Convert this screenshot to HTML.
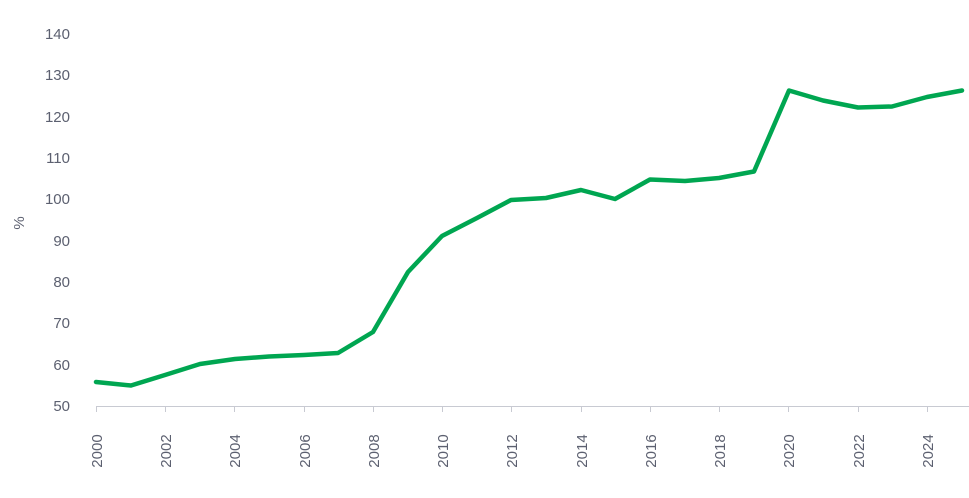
<!DOCTYPE html>
<html><head><meta charset="utf-8"><style>
html,body{margin:0;padding:0;background:#fff;width:969px;height:498px;overflow:hidden}
svg text{font-family:"Liberation Sans",sans-serif;font-size:15px;fill:#5c6070}
</style></head><body>
<svg width="969" height="498" xmlns="http://www.w3.org/2000/svg">
<g text-anchor="end">
<text x="70" y="39">140</text><text x="70" y="80">130</text><text x="70" y="122">120</text>
<text x="70" y="163">110</text><text x="70" y="204">100</text><text x="70" y="246">90</text>
<text x="70" y="287">80</text><text x="70" y="328">70</text><text x="70" y="370">60</text>
<text x="70" y="411">50</text>
</g>
<text transform="translate(24,223) rotate(-90)" text-anchor="middle">%</text>
<line x1="96" y1="406.5" x2="969" y2="406.5" stroke="#c8cad2" stroke-width="1"/>
<g stroke="#c8cad2" stroke-width="1">
<line x1="96.5" y1="406" x2="96.5" y2="412"/><line x1="165.5" y1="406" x2="165.5" y2="412"/>
<line x1="234.5" y1="406" x2="234.5" y2="412"/><line x1="304.5" y1="406" x2="304.5" y2="412"/>
<line x1="373.5" y1="406" x2="373.5" y2="412"/><line x1="442.5" y1="406" x2="442.5" y2="412"/>
<line x1="511.5" y1="406" x2="511.5" y2="412"/><line x1="581.5" y1="406" x2="581.5" y2="412"/>
<line x1="650.5" y1="406" x2="650.5" y2="412"/><line x1="719.5" y1="406" x2="719.5" y2="412"/>
<line x1="788.5" y1="406" x2="788.5" y2="412"/><line x1="858.5" y1="406" x2="858.5" y2="412"/>
<line x1="927.5" y1="406" x2="927.5" y2="412"/>
</g>
<g text-anchor="middle">
<text transform="translate(102,451) rotate(-90)">2000</text>
<text transform="translate(171,451) rotate(-90)">2002</text>
<text transform="translate(240,451) rotate(-90)">2004</text>
<text transform="translate(310,451) rotate(-90)">2006</text>
<text transform="translate(379,451) rotate(-90)">2008</text>
<text transform="translate(448,451) rotate(-90)">2010</text>
<text transform="translate(517,451) rotate(-90)">2012</text>
<text transform="translate(587,451) rotate(-90)">2014</text>
<text transform="translate(656,451) rotate(-90)">2016</text>
<text transform="translate(725,451) rotate(-90)">2018</text>
<text transform="translate(794,451) rotate(-90)">2020</text>
<text transform="translate(864,451) rotate(-90)">2022</text>
<text transform="translate(933,451) rotate(-90)">2024</text>
</g>
<polyline fill="none" stroke="#00a651" stroke-width="4.5" stroke-linejoin="round" stroke-linecap="round"
points="96,382 131,385.5 165,375 200,364 235,359 269,356.5 304,355 338,353 373,332 408,272 442,236 477,218 511,200 546,198 581,190 615,199 650,179.5 685,181 719,178 754,171.5 789,90.5 823,100.5 858,107.5 892,106.5 927,97 962,90.5"/>
</svg>
</body></html>
